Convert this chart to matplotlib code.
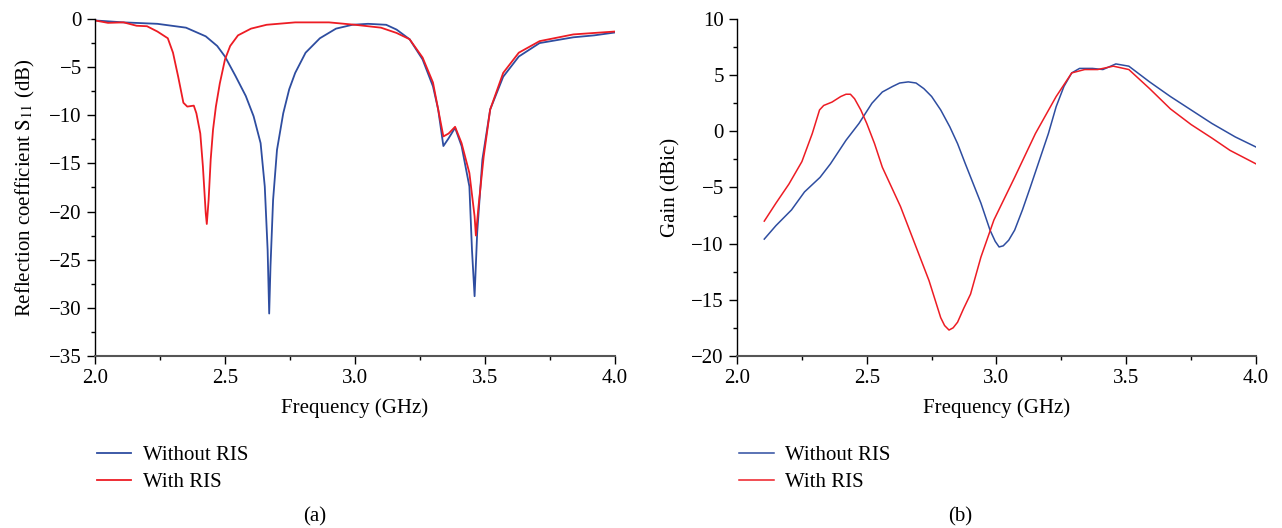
import numpy as np
import matplotlib
matplotlib.use("Agg")
import matplotlib.pyplot as plt
from matplotlib.ticker import MultipleLocator, FormatStrFormatter

# (a) reflection coefficient S11
s11_freq_without = [2.0, 2.11, 2.24, 2.35, 2.426, 2.47, 2.50, 2.54, 2.58, 2.61, 2.637, 2.653,
                    2.664, 2.67, 2.675, 2.685, 2.70, 2.724, 2.747, 2.77, 2.81, 2.865, 2.927,
                    2.99, 3.05, 3.12, 3.16, 3.21, 3.26, 3.30, 3.32, 3.34, 3.36, 3.385, 3.41,
                    3.44, 3.45, 3.46, 3.47, 3.49, 3.52, 3.57, 3.63, 3.71, 3.84, 3.92, 4.0]
s11_without = [-0.15, -0.35, -0.5, -0.9, -1.8, -2.8, -3.9, -5.9, -8.0, -10.1, -12.9, -17.4,
               -24.0, -30.6, -25.7, -18.8, -13.6, -9.8, -7.3, -5.6, -3.5, -2.0, -1.0,
               -0.6, -0.5, -0.6, -1.1, -2.1, -4.2, -7.0, -9.4, -13.2, -12.4, -11.3, -13.2,
               -17.4, -24.0, -28.8, -22.2, -14.6, -9.4, -6.0, -3.9, -2.5, -1.9, -1.7, -1.4]

s11_freq_with = [2.0, 2.05, 2.11, 2.16, 2.2, 2.24, 2.28, 2.30, 2.32, 2.34, 2.355, 2.38, 2.39,
                 2.405, 2.415, 2.426, 2.43, 2.437, 2.445, 2.454, 2.465, 2.48, 2.50, 2.52,
                 2.55, 2.60, 2.66, 2.77, 2.9, 3.0, 3.1, 3.16, 3.21, 3.26, 3.30, 3.32, 3.34,
                 3.36, 3.385, 3.41, 3.44, 3.46, 3.465, 3.475, 3.495, 3.52, 3.57, 3.63, 3.71,
                 3.84, 4.0]
s11_with = [-0.15, -0.4, -0.35, -0.7, -0.75, -1.3, -2.0, -3.5, -6.0, -8.7, -9.1, -9.0, -9.8,
            -11.9, -15.3, -20.2, -21.3, -18.8, -14.6, -11.5, -9.1, -6.7, -4.2, -2.8,
            -1.7, -1.0, -0.6, -0.35, -0.35, -0.6, -0.9, -1.45, -2.1, -4.0, -6.6, -9.4, -12.2,
            -11.9, -11.2, -12.9, -16.0, -20.5, -22.5, -19.5, -14.3, -9.4, -5.6, -3.5, -2.3,
            -1.6, -1.3]

# (b) gain
gain_freq_without = [2.105, 2.15, 2.21, 2.26, 2.32, 2.36, 2.42, 2.47, 2.52, 2.56, 2.60, 2.627,
                     2.66, 2.69, 2.72, 2.75, 2.785, 2.82, 2.85, 2.88, 2.94, 2.975, 2.995,
                     3.01, 3.026, 3.047, 3.07, 3.10, 3.13, 3.165, 3.20, 3.23, 3.26, 3.29,
                     3.32, 3.37, 3.41, 3.46, 3.51, 3.59, 3.67, 3.75, 3.83, 3.92, 4.0]
gain_without = [-9.6, -8.4, -7.0, -5.4, -4.1, -2.9, -0.8, 0.7, 2.5, 3.5, 4.0, 4.3,
                4.4, 4.3, 3.8, 3.1, 1.9, 0.4, -1.1, -2.9, -6.4, -8.8, -9.8,
                -10.3, -10.2, -9.7, -8.8, -7.0, -5.0, -2.6, -0.2, 2.2, 4.0, 5.2,
                5.6, 5.6, 5.5, 6.0, 5.8, 4.4, 3.1, 1.9, 0.7, -0.5, -1.4]

gain_freq_with = [2.105, 2.15, 2.20, 2.25, 2.29, 2.318, 2.334, 2.366, 2.40, 2.42, 2.437,
                  2.453, 2.477, 2.50, 2.53, 2.56, 2.63, 2.69, 2.74, 2.785, 2.80, 2.817,
                  2.833, 2.85, 2.873, 2.90, 2.94, 2.99, 3.07, 3.15, 3.23, 3.29, 3.34, 3.39,
                  3.45, 3.51, 3.59, 3.67, 3.75, 3.83, 3.90, 4.0]
gain_with = [-8.0, -6.4, -4.7, -2.7, -0.2, 1.9, 2.3, 2.6, 3.1, 3.3, 3.3,
             2.9, 1.9, 0.7, -1.1, -3.2, -6.7, -10.3, -13.3, -16.6, -17.3, -17.7,
             -17.5, -17.0, -15.8, -14.5, -11.2, -7.9, -4.1, -0.2, 3.1, 5.2, 5.5, 5.5,
             5.8, 5.5, 3.8, 2.0, 0.6, -0.6, -1.7, -2.9]

series_labels = ["Without RIS", "With RIS"]
blue = "#2E4DA0"
red = "#ED1C24"

plt.rcParams["font.family"] = ["Liberation Serif", "DejaVu Serif"]
plt.rcParams["font.size"] = 15
plt.rcParams["mathtext.fontset"] = "stix"


def style_axes(ax, ymin, ymax):
    ax.set_xlim(2.0, 4.0)
    ax.set_ylim(ymin, ymax)
    ax.xaxis.set_major_locator(MultipleLocator(0.5))
    ax.xaxis.set_minor_locator(MultipleLocator(0.25))
    ax.yaxis.set_major_locator(MultipleLocator(5))
    ax.yaxis.set_minor_locator(MultipleLocator(2.5))
    ax.xaxis.set_major_formatter(FormatStrFormatter("%.1f"))
    ax.spines["top"].set_visible(False)
    ax.spines["right"].set_visible(False)
    ax.spines["bottom"].set_color("#555555")
    ax.spines["bottom"].set_linewidth(1.5)
    ax.spines["left"].set_linewidth(1.0)
    ax.tick_params(which="major", direction="out", length=6, width=1, labelsize=15)
    ax.tick_params(which="minor", direction="out", length=3, width=1)
    ax.set_xlabel("Frequency (GHz)", fontsize=15, labelpad=7)


fig = plt.figure(figsize=(12.82, 5.28), dpi=100)
ax1 = fig.add_axes([0.0741, 0.326, 0.4056, 0.638])
ax2 = fig.add_axes([0.5749, 0.326, 0.4048, 0.638])

l1, = ax1.plot(s11_freq_without, s11_without, color=blue, lw=1.3, label=series_labels[0])
l2, = ax1.plot(s11_freq_with, s11_with, color=red, lw=1.3, label=series_labels[1])
style_axes(ax1, -35, 0)
ax1.set_ylabel(r"Reflection coefficient $\mathrm{S}_{11}$ (dB)", fontsize=15, labelpad=9)

m1, = ax2.plot(gain_freq_without, gain_without, color=blue, lw=1.1, label=series_labels[0])
m2, = ax2.plot(gain_freq_with, gain_with, color=red, lw=1.1, label=series_labels[1])
style_axes(ax2, -20, 10)
ax2.set_ylabel("Gain (dBic)", fontsize=15, labelpad=8)

fig.legend(handles=[l1, l2], loc="upper left", bbox_to_anchor=(0.061, 0.192),
           frameon=False, handlelength=1.65, handletextpad=0.55, fontsize=15,
           labelspacing=0.35)
fig.legend(handles=[m1, m2], loc="upper left", bbox_to_anchor=(0.562, 0.192),
           frameon=False, handlelength=1.65, handletextpad=0.55, fontsize=15,
           labelspacing=0.35)

fig.text(0.2457, 0.012, "(a)", ha="center", fontsize=15)
fig.text(0.749, 0.012, "(b)", ha="center", fontsize=15)

fig.savefig("out.png", dpi=100)
